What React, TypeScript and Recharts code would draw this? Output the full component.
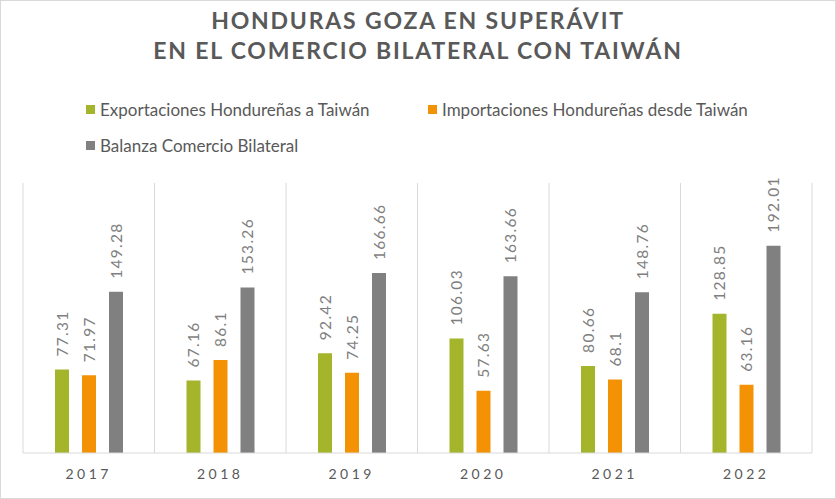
import React from "react";
import { BarChart, Bar, XAxis, YAxis, CartesianGrid, LabelList } from "recharts";

const years = ["2017", "2018", "2019", "2020", "2021", "2022"];
const exportaciones = [77.31, 67.16, 92.42, 106.03, 80.66, 128.85];
const importaciones = [71.97, 86.1, 74.25, 57.63, 68.1, 63.16];
const balanza = [149.28, 153.26, 166.66, 163.66, 148.76, 192.01];

const seriesNames = [
  "Exportaciones Hondureñas a Taiwán",
  "Importaciones Hondureñas desde Taiwán",
  "Balanza Comercio Bilateral",
];
const seriesColors = ["#A4B52C", "#F39204", "#808080"];

const data = years.map((year, i) => ({
  year,
  exp: exportaciones[i],
  imp: importaciones[i],
  bal: balanza[i],
}));

const FONT = "Lato, 'Open Sans', sans-serif";

function BarValue(props: any) {
  const { x, y, width, value } = props;
  const cx = x + width / 2;
  const cy = y - 13;
  return (
    <text
      x={cx}
      y={cy}
      transform={`rotate(-90, ${cx}, ${cy})`}
      textAnchor="start"
      dominantBaseline="central"
      fill="#7F7F7F"
      fontSize={15.5}
      fontFamily={FONT}
      letterSpacing={1.3}
    >
      {value}
    </text>
  );
}

function YearTick(props: any) {
  const { x, y, payload } = props;
  return (
    <text
      x={x}
      y={y + 18}
      textAnchor="middle"
      fill="#595959"
      fontSize={14}
      fontFamily={FONT}
      letterSpacing={3.5}
    >
      {payload.value}
    </text>
  );
}

export default function App() {
  return (
    <div
      style={{
        position: "absolute",
        left: 0,
        top: 0,
        width: 834,
        height: 497,
        border: "1px solid #D9D9D9",
        background: "#fff",
        fontFamily: FONT,
      }}
    >
      <div
        style={{
          position: "absolute",
          top: 4,
          left: 0,
          width: "100%",
          textAlign: "center",
          color: "#595959",
          fontSize: 23,
          fontWeight: 700,
          letterSpacing: 1.8,
          lineHeight: "30px",
        }}
      >
        HONDURAS GOZA EN SUPERÁVIT
        <br />
        EN EL COMERCIO BILATERAL CON TAIWÁN
      </div>

      {[0, 1, 2].map((i) => (
        <div
          key={i}
          style={{
            position: "absolute",
            left: i === 1 ? 427 : 85,
            top: i === 2 ? 134 : 98,
            display: "flex",
            alignItems: "center",
            color: "#595959",
            fontSize: 17,
          }}
        >
          <span
            style={{
              display: "inline-block",
              width: 9,
              height: 9,
              background: seriesColors[i],
              marginRight: 5,
            }}
          />
          {seriesNames[i]}
        </div>
      ))}

      <BarChart
        width={834}
        height={497}
        data={data}
        margin={{ top: 182, right: 23, bottom: 15, left: 22 }}
        barSize={14}
        barGap={13}
      >
        <CartesianGrid
          horizontal={false}
          stroke="#D9D9D9"
          verticalCoordinatesGenerator={({ offset }: any) =>
            years.map((_, i) => offset.left + (i * offset.width) / years.length).concat(offset.left + offset.width)
          }
        />
        <XAxis
          dataKey="year"
          axisLine={{ stroke: "#D9D9D9" }}
          tickLine={false}
          tick={<YearTick />}
          interval={0}
        />
        <YAxis hide domain={[0, 250]} />
        <Bar dataKey="exp" fill={seriesColors[0]} isAnimationActive={false}>
          <LabelList dataKey="exp" content={<BarValue />} />
        </Bar>
        <Bar dataKey="imp" fill={seriesColors[1]} isAnimationActive={false}>
          <LabelList dataKey="imp" content={<BarValue />} />
        </Bar>
        <Bar dataKey="bal" fill={seriesColors[2]} isAnimationActive={false}>
          <LabelList dataKey="bal" content={<BarValue />} />
        </Bar>
      </BarChart>
    </div>
  );
}
